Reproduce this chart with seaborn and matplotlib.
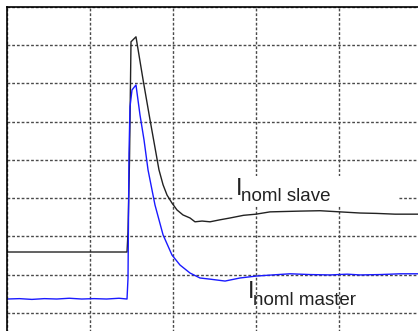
import matplotlib
matplotlib.use("Agg")
import matplotlib.pyplot as plt
import seaborn as sns
import pandas as pd
from matplotlib.patches import Rectangle

# ---- data (grid units: 1 x-division, 1 y-division) ----
slave_t = [0.0, 0.30, 0.60, 0.90, 1.20, 1.446, 1.458, 1.476, 1.494, 1.554, 1.639, 1.723, 1.831, 1.880,
           1.928, 1.988, 2.048, 2.120, 2.205, 2.265, 2.350, 2.446, 2.560, 2.687, 2.850, 3.0,
           3.169, 3.350, 3.530, 3.771, 4.012, 4.253, 4.450, 4.675, 4.952, 5.0]
slave_v = [2.59, 2.59, 2.59, 2.59, 2.59, 2.59, 3.12, 5.00, 8.09, 8.22, 7.10, 6.05, 4.74, 4.35,
           4.08, 3.87, 3.69, 3.56, 3.48, 3.38, 3.40, 3.38, 3.43, 3.48, 3.55, 3.58,
           3.64, 3.65, 3.66, 3.67, 3.64, 3.61, 3.60, 3.58, 3.58, 3.58]

master_t = [0.0, 0.15, 0.30, 0.45, 0.60, 0.75, 0.90, 1.05, 1.20, 1.35, 1.446, 1.458, 1.470,
            1.482, 1.506, 1.554, 1.602, 1.651, 1.699, 1.783, 1.880, 1.988, 2.084, 2.205,
            2.325, 2.446, 2.627, 2.807, 3.0, 3.20, 3.410, 3.650, 3.892, 4.100, 4.253,
            4.500, 4.735, 4.952, 5.0]
master_v = [1.36, 1.37, 1.35, 1.37, 1.36, 1.38, 1.36, 1.37, 1.36, 1.38, 1.36, 1.91, 5.18,
            6.39, 6.83, 6.96, 6.18, 5.52, 4.74, 3.82, 3.04, 2.51, 2.25, 2.04,
            1.91, 1.88, 1.83, 1.91, 1.96, 1.99, 2.02, 2.00, 1.99, 2.01, 1.99,
            2.00, 2.02, 2.02, 2.02]

label_slave = ("I", "noml slave")
label_master = ("I", "noml master")

df_s = pd.DataFrame({"t": slave_t, "v": slave_v})
df_m = pd.DataFrame({"t": master_t, "v": master_v})

sns.set_style("white")
plt.rcParams["font.family"] = ["Liberation Sans", "DejaVu Sans"]

fig = plt.figure(figsize=(4.18, 3.31), dpi=100)
# axes extends past the figure on the right and bottom (cropped scope view)
ax = fig.add_axes([7 / 418, (331 - 351) / 331, 415 / 418, 344 / 331])

ax.set_xlim(0, 5)
ax.set_ylim(0, 9)
ax.set_xticks(range(0, 6))
ax.set_yticks(range(0, 10))
ax.tick_params(length=0, labelbottom=False, labelleft=False)
ax.set_axisbelow(True)
ax.grid(True, color="#4a4a4a", linewidth=1.0, linestyle=(0, (2.0, 1.4)))
for side in ["left", "top"]:
    ax.spines[side].set_visible(True)
    ax.spines[side].set_color("black")
    ax.spines[side].set_linewidth(1.2)
for side in ["right", "bottom"]:
    ax.spines[side].set_visible(False)

# white box behind slave label
ax.add_patch(Rectangle((2.723, 3.80), 1.99, 0.78, facecolor="white", edgecolor="none", zorder=1))

sns.lineplot(data=df_s, x="t", y="v", ax=ax, color="#222222", linewidth=1.0,
             estimator=None, sort=False, zorder=2)
sns.lineplot(data=df_m, x="t", y="v", ax=ax, color="#1a1aff", linewidth=1.0,
             estimator=None, sort=False, zorder=2)
ax.set_xlabel("")
ax.set_ylabel("")

tc = "#222222"
ax.text(2.759, 4.08, label_slave[0], fontsize=17, color=tc, ha="left", va="baseline", zorder=3)
ax.text(2.819, 3.93, label_slave[1], fontsize=13.5, color=tc, ha="left", va="baseline", zorder=3)
ax.text(2.904, 1.387, label_master[0], fontsize=17, color=tc, ha="left", va="baseline", zorder=3)
ax.text(2.964, 1.204, label_master[1], fontsize=13.5, color=tc, ha="left", va="baseline", zorder=3)

fig.savefig("out.png", dpi=100)
